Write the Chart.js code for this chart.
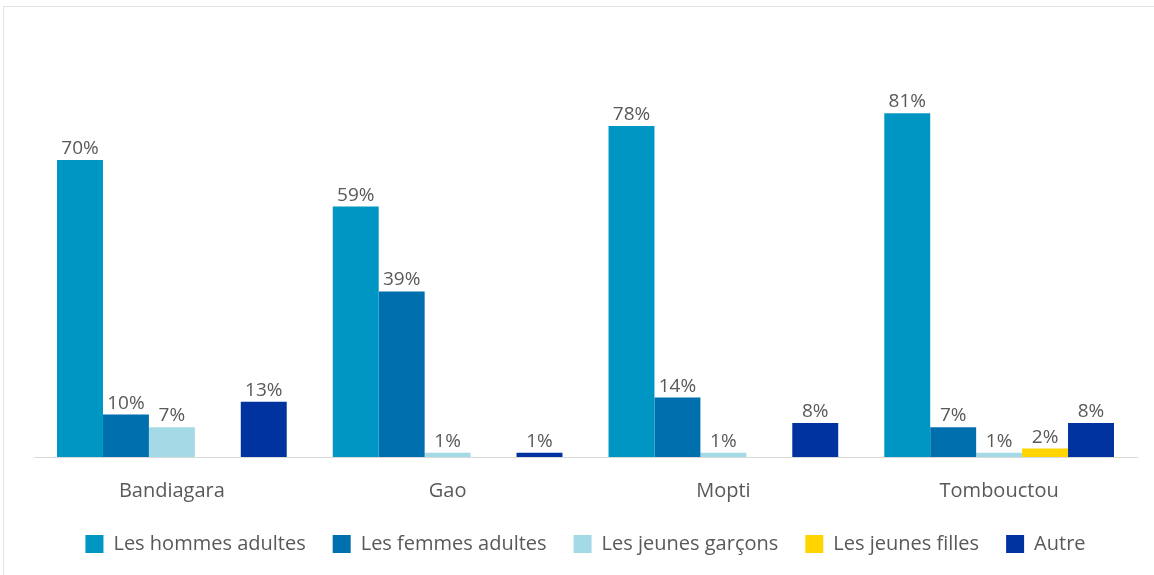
<!DOCTYPE html>
<html>
<head>
<meta charset="utf-8">
<script src="https://cdn.jsdelivr.net/npm/chart.js@4"></script>
<style>
  html, body { margin: 0; padding: 0; background: #fff; }
  #frame {
    position: absolute; left: 3px; top: 6px; width: 1151px; height: 569px;
    border-top: 1px solid #e3e3e3; border-left: 1px solid #e3e3e3;
  }
  #wrap { position: absolute; left: 0; top: 0; width: 1154px; height: 575px; }
</style>
</head>
<body>
<div id="frame"></div>
<div id="wrap"><canvas id="myChart" width="1154" height="575"></canvas></div>
<script>
const regions = ['Bandiagara', 'Gao', 'Mopti', 'Tombouctou'];

const hommesAdultes = [70, 59, 78, 81];
const femmesAdultes = [10, 39, 14, 7];
const jeunesGarcons = [7, 1, 1, 1];
const jeunesFilles = [0, 0, 0, 2];
const autre = [13, 1, 8, 8];

const seriesNames = ['Les hommes adultes', 'Les femmes adultes', 'Les jeunes garçons', 'Les jeunes filles', 'Autre'];
const seriesColors = ['#0096C4', '#006FAE', '#A3DAE6', '#FFD400', '#0033A0'];

const textColor = '#595959';
const fontFamily = "'Open Sans', 'Noto Sans', sans-serif";

// Writes the percentage above each non-zero bar
const barLabels = {
  id: 'barLabels',
  afterDatasetsDraw(chart) {
    const ctx = chart.ctx;
    ctx.save();
    ctx.font = '19px ' + fontFamily;
    ctx.fillStyle = textColor;
    ctx.textAlign = 'center';
    ctx.textBaseline = 'alphabetic';
    chart.data.datasets.forEach((ds, i) => {
      const meta = chart.getDatasetMeta(i);
      meta.data.forEach((bar, j) => {
        const v = ds.data[j];
        if (!v) return;
        ctx.fillText(v + '%', bar.x, bar.y - 6);
      });
    });
    ctx.restore();
  }
};

const allSeries = [hommesAdultes, femmesAdultes, jeunesGarcons, jeunesFilles, autre];

new Chart(document.getElementById('myChart'), {
  type: 'bar',
  data: {
    labels: regions,
    datasets: allSeries.map((vals, i) => ({
      label: seriesNames[i],
      data: vals,
      backgroundColor: seriesColors[i],
      categoryPercentage: 0.833,
      barPercentage: 1.0
    }))
  },
  options: {
    responsive: false,
    animation: false,
    layout: { padding: { left: 34, right: 17, top: 75, bottom: 11 } },
    scales: {
      x: {
        grid: { display: false, drawTicks: false },
        border: { display: true, color: '#d9d9d9', width: 1 },
        ticks: { color: textColor, font: { size: 20, family: fontFamily }, padding: 22 },
        // fixed band for the region names, the legend sits right below
        afterFit(scale) { scale.height = 60; }
      },
      y: {
        display: false,
        min: 0,
        max: 90
      }
    },
    plugins: {
      tooltip: { enabled: false },
      legend: {
        position: 'bottom',
        labels: {
          color: textColor,
          font: { size: 20, family: fontFamily },
          boxWidth: 18,
          boxHeight: 18,
          padding: 17,
          // a bit more room between entries without a taller legend box
          generateLabels(chart) {
            const items = Chart.defaults.plugins.legend.labels.generateLabels(chart);
            items.forEach((it, i) => {
              if (i < items.length - 1) it.text += '\u2002';
            });
            return items;
          }
        }
      }
    }
  },
  plugins: [barLabels]
});
</script>
</body>
</html>
